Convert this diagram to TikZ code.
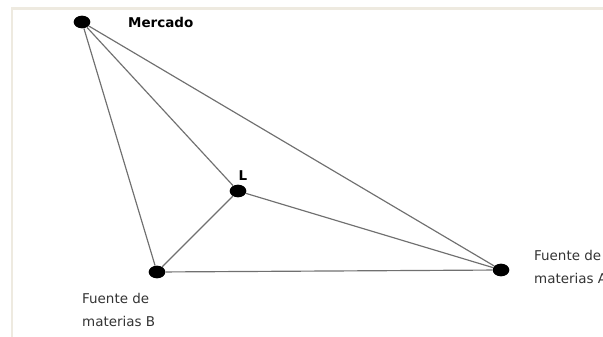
\documentclass[tikz,border=0pt]{standalone}
\usepackage{fontspec}
\setmainfont{DejaVu Sans}
\usetikzlibrary{positioning,shapes.geometric}
\definecolor{marco}{HTML}{EEEAE0}
\definecolor{linea}{HTML}{707070}

\begin{document}
\begin{tikzpicture}[x=0.03cm, y=-0.03cm,
  punto/.style={ellipse, fill=black, inner sep=0pt, minimum width=0.5cm, minimum height=0.38cm},
  tramo/.style={draw=linea, line width=1pt},
  etiq/.style={font=\fontsize{11.5}{19.5}\selectfont, align=left, text=black!80},
  titulo/.style={font=\fontsize{11.5}{13}\selectfont\bfseries},
]
\useasboundingbox (0,0) rectangle (603,337);
\draw[marco, line width=2.2pt] (12,337) -- (12,8.5) -- (603,8.5);

% puntos
\node[punto] (merc) at (82,22) {};
\node[punto] (loc) at (238,191) {};
\node[punto] (fb) at (157,272) {};
\node[punto] (fa) at (501,270) {};

% tramos
\draw[tramo] (merc) -- (fb);
\draw[tramo] (merc) -- (loc);
\draw[tramo] (merc) -- (fa);
\draw[tramo] (loc) -- (fb);
\draw[tramo] (loc) -- (fa);
\draw[tramo] (fb) -- (fa);

% etiquetas
\node[titulo, anchor=west] (tmerc) at (124,22) {Mercado};
\node[titulo] (tloc) at (243,176) {L};
\node[etiq, anchor=north west] (tfb) at (78,289) {Fuente de\\materias B};
\node[etiq, anchor=north west] (tfa) at (530,246) {Fuente de\\materias A};
\end{tikzpicture}
\end{document}
